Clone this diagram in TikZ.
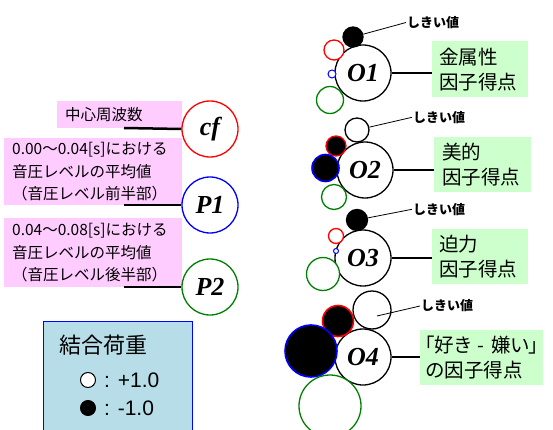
\documentclass[tikz,border=0pt]{standalone}
\usepackage{fontspec}
\setmainfont{Noto Sans CJK JP}
\newfontfamily\jp{Noto Sans CJK JP}
\newfontfamily\jpp[RawFeature=+palt]{Noto Sans CJK JP}
\newfontfamily\tnr{Liberation Serif}
\newfontfamily\arl{Liberation Sans}
\definecolor{pinkc}{RGB}{255,204,255}
\definecolor{greenc}{RGB}{204,255,204}
\definecolor{legc}{RGB}{183,222,232}
\definecolor{dgreen}{RGB}{0,128,0}
\tikzset{
  fac/.style={circle, draw=black, line width=1.3pt, minimum size=56pt, inner sep=0pt, fill=white,
    font=\tnr\bfseries\itshape\fontsize{26}{26}\selectfont},
  pinkbox/.style={fill=pinkc, anchor=north west, align=left, inner ysep=0pt,
    font=\jp\fontsize{15.5}{22.5}\selectfont},
  greenbox/.style={fill=greenc, anchor=north west, align=left, inner ysep=0pt,
    font=\jp\fontsize{19.5}{25}\selectfont},
  conn/.style={line width=2.5pt},
  thr/.style={line width=0.8pt},
  lab/.style={font=\jp\bfseries\fontsize{13}{13}\selectfont, inner sep=1pt, anchor=west},
  dot/.style={circle, inner sep=0pt, line width=1.3pt, minimum size=#1},
}
\begin{document}
\begin{tikzpicture}[x=1pt,y=-1pt]
\useasboundingbox (0,0) rectangle (553,430);

% ---------- left: input variables ----------
\node[pinkbox, minimum height=27pt, inner xsep=8pt, text width=109pt] (cfbox) at (57,101) {中心周波数};
\node[pinkbox, minimum height=67pt, inner xsep=8pt, text width=162pt] (p1box) at (4,138)
  {0.00～0.04[s]における\\音圧レベルの平均値\\（音圧レベル前半部）};
\node[pinkbox, minimum height=69pt, inner xsep=8pt, text width=162pt] (p2box) at (4,218)
  {0.04～0.08[s]における\\音圧レベルの平均値\\（音圧レベル後半部）};

\node[fac, draw=red] (cf) at (210,129) {cf};
\node[fac, draw=blue] (p1) at (210,205) {P1};
\node[fac, draw=dgreen] (p2) at (210,287) {P2};

\coordinate (cfs) at (124,128);
\coordinate (p1s) at (124,205);
\coordinate (p2s) at (124,287);
\draw[conn] (cfs) -- (cf.west);
\draw[conn] (p1s) -- (p1.west);
\draw[conn] (p2s) -- (p2.west);

% ---------- legend ----------
\node[draw=blue, line width=1pt, fill=legc, anchor=north west, minimum width=149pt, minimum height=119pt, inner sep=0pt] (legend) at (43,321) {};
\node[font=\jp\fontsize{22}{22}\selectfont, anchor=west, inner sep=0pt] (legtitle) at (59,345) {結合荷重};
\node[dot=15pt, draw=black, fill=white, line width=1pt] (legw) at (88,380) {};
\node[dot=15pt, draw=black, fill=black, line width=1pt] (legb) at (88,408) {};
\node[font=\arl\fontsize{21}{21}\selectfont, anchor=west, inner sep=0pt] (legwt) at (104,380) {: +1.0};
\node[font=\arl\fontsize{21}{21}\selectfont, anchor=west, inner sep=0pt] (legbt) at (104,408) {: -1.0};

% ---------- right: output factors ----------
% O1
\node[fac] (o1) at (363,73) {O1};
\node[dot=20pt, draw=black, fill=black] (t1) at (353,37) {};
\node[dot=20pt, draw=red, fill=white] (r1) at (334,50) {};
\node[dot=8pt, draw=blue, fill=white, line width=1pt] (b1) at (332,74) {};
\node[dot=27pt, draw=dgreen, fill=white] (g1) at (330,100) {};
\node[lab] (l1) at (406,22.5) {しきい値};
\draw[thr] (t1) -- (l1.west);
\node[greenbox, minimum height=56pt, inner xsep=7pt, text width=82pt] (o1box) at (432,41) {金属性\\因子得点};
\draw[conn] (o1.east) -- (o1.east -| o1box.west);

% O2
\node[fac] (o2) at (365,170) {O2};
\node[dot=24pt, draw=black, fill=white] (t2) at (357,130) {};
\node[dot=20pt, draw=red, fill=black] (r2) at (336,146) {};
\node[dot=27pt, draw=blue, fill=black, line width=1.6pt] (b2) at (325.5,168) {};
\node[dot=25pt, draw=dgreen, fill=white] (g2) at (334,197) {};
\node[lab] (l2) at (412,117.3) {しきい値};
\draw[thr] (t2) -- (l2.west);
\node[greenbox, minimum height=55pt, inner xsep=8pt, text width=81pt] (o2box) at (434,137) {美的\\因子得点};
\draw[conn] (o2.east) -- (o2.east -| o2box.west);

% O3
\node[fac] (o3) at (363,258) {O3};
\node[dot=21pt, draw=black, fill=black] (t3) at (357,220) {};
\node[dot=15pt, draw=red, fill=white] (r3) at (336,236) {};
\node[dot=5pt, draw=blue, fill=white, line width=1pt] (b3) at (336,251) {};
\node[dot=33pt, draw=dgreen, fill=white] (g3) at (323,274) {};
\node[lab] (l3) at (412,209.3) {しきい値};
\draw[thr] (t3) -- (l3.west);
\node[greenbox, minimum height=55pt, inner xsep=7pt, text width=82pt] (o3box) at (432,229) {迫力\\因子得点};
\draw[conn] (o3.east) -- (o3.east -| o3box.west);

% O4
\node[fac] (o4) at (363,357) {O4};
\node[dot=38pt, draw=black, fill=white] (t4) at (372,310) {};
\node[dot=31pt, draw=red, fill=black, line width=1.6pt] (r4) at (338,321) {};
\node[dot=52pt, draw=blue, fill=black, line width=1.6pt] (b4) at (311,351) {};
\node[dot=62pt, draw=dgreen, fill=white] (g4) at (330,406) {};
\node[lab] (l4) at (420,306) {しきい値};
\coordinate (t4in) at (377,316);
\draw[thr] (t4in) -- (l4.west);
\node[greenbox, minimum height=55pt, inner xsep=5pt, text width=113pt] (o4box) at (420,330)
  {\makebox[113pt][l]{\jpp 「好き - 嫌い」}\\の因子得点};
\draw[conn] (o4.east) -- (o4.east -| o4box.west);
\end{tikzpicture}
\end{document}
